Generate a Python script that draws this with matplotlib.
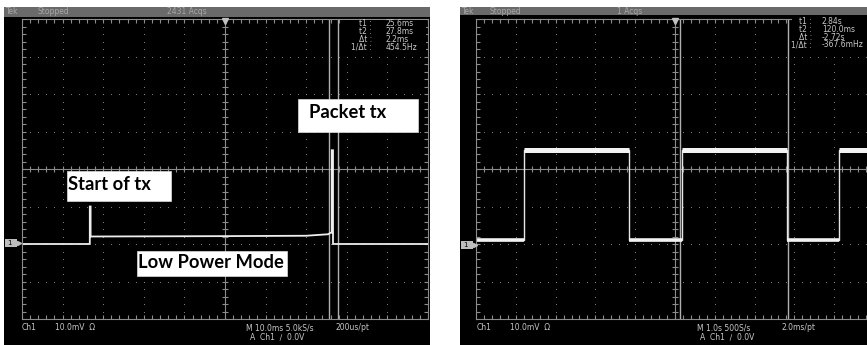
import numpy as np
import matplotlib
matplotlib.use("Agg")
import matplotlib.pyplot as plt
from matplotlib.patches import Rectangle
from matplotlib.collections import LineCollection

W, H = 867, 345

# ---------------- data ----------------
# left capture: time in ms, level in mV above channel ground
left_t = [-50, -33.3, -33.3, -33.1, -33.1, 0.0, 20.0, 25.4, 26.0, 26.3, 26.3, 26.6, 26.6, 50]
left_v = [0.0, 0.0, 10.0, 10.0, 2.0, 2.1, 2.2, 2.6, 3.0, 3.0, 25.0, 25.0, 0.0, 0.0]
left_cursors = [25.6, 27.8]
left_readout_lbl = ["t1 :", "t2 :", "\u0394t :", "1/\u0394t :"]
left_readout_val = ["25.6ms", "27.8ms", "2.2ms", "454.5Hz"]

# right capture: time in s, level in mV above channel ground
right_t = [-5.0, -3.80, -3.80, -1.16, -1.16, 0.17, 0.17, 2.81, 2.81, 4.12, 4.12, 5.5]
right_v = [1.0, 1.0, 25.0, 25.0, 1.0, 1.0, 25.0, 25.0, 1.0, 1.0, 25.0, 25.0]
right_cursors = [0.12, 2.84]
right_readout_lbl = ["t1 :", "t2 :", "\u0394t :", "1/\u0394t :"]
right_readout_val = ["2.84s", "120.0ms", "-2.72s", "-367.6mHz"]

GRID = "#8c8c8c"
TXT = "#c8c8c8"

fig = plt.figure(figsize=(W / 100, H / 100), dpi=100)
fig.patch.set_facecolor("white")

bg = fig.add_axes([0, 0, 1, 1])
bg.set_xlim(0, W); bg.set_ylim(H, 0); bg.axis("off")
# panels
bg.add_patch(Rectangle((4, 7), 426, H - 7, color="black", lw=0))
bg.add_patch(Rectangle((4, 7), 426, 10, color="#6a6a6a", lw=0))
bg.add_patch(Rectangle((460, 7), W - 460, H - 7, color="black", lw=0))
bg.add_patch(Rectangle((460, 7), W - 460, 8, color="#6a6a6a", lw=0))


def make_ax(x0, y0, wpx, hpx, xlim):
    ax = fig.add_axes([x0 / W, 1 - (y0 + hpx) / H, wpx / W, hpx / H])
    ax.set_facecolor("none")
    ax.set_xlim(*xlim)
    ax.set_ylim(-20, 60)
    ax.set_xticks([]); ax.set_yticks([])
    for s in ax.spines.values():
        s.set_color(GRID); s.set_linewidth(0.8)
    T = ax.transAxes
    # dotted grid
    us, vs = [], []
    for i in range(1, 10):
        for k in range(41):
            us.append(i / 10); vs.append(k / 40)
    for j in range(1, 8):
        for k in range(51):
            us.append(k / 50); vs.append(j / 8)
    ax.scatter(us, vs, s=0.6, c=GRID, transform=T, lw=0, clip_on=False)
    # centre lines
    ax.plot([0.5, 0.5], [0, 1], color=GRID, lw=0.8, transform=T)
    ax.plot([0, 1], [0.5, 0.5], color=GRID, lw=0.8, transform=T)
    segs = []
    tl_u, tl_v = 3 / wpx, 3 / hpx
    for k in range(51):
        u = k / 50
        segs.append([(u, 0.5 - tl_v), (u, 0.5 + tl_v)])
        segs.append([(u, 0), (u, 1.3 * tl_v)])
        segs.append([(u, 1), (u, 1 - 1.3 * tl_v)])
    for k in range(41):
        v = k / 40
        segs.append([(0.5 - tl_u, v), (0.5 + tl_u, v)])
        segs.append([(0, v), (1.3 * tl_u, v)])
        segs.append([(1, v), (1 - 1.3 * tl_u, v)])
    ax.add_collection(LineCollection(segs, colors=GRID, lw=0.8, transform=T))
    return ax


axL = make_ax(22, 19, 406, 300, (-50, 50))
axR = make_ax(476, 19, 398, 300, (-5, 5))

for c in left_cursors:
    axL.axvline(c, color="#b0b0b0", lw=1.0)
for c in right_cursors:
    axR.axvline(c, color="#b0b0b0", lw=1.0)

axL.plot(left_t, left_v, color="#eeeeee", lw=1.3, solid_joinstyle="miter")

# right trace: thin edges, thick noisy-looking flat levels
axR.plot(right_t, right_v, color="#e6e6e6", lw=1.0)
for i in range(len(right_t) - 1):
    if right_v[i] == right_v[i + 1]:
        lw = 3.6 if right_v[i] > 10 else 2.6
        axR.plot([right_t[i], right_t[i + 1]], [right_v[i], right_v[i + 1]],
                 color="#f2f2f2", lw=lw, solid_capstyle="butt")

# overlay for labels
ov = fig.add_axes([0, 0, 1, 1], facecolor="none")
ov.set_xlim(0, W); ov.set_ylim(H, 0); ov.axis("off")

fs = 5.5
# headers
for x, s in [(6, "Tek"), (37, "Stopped"), (167, "2431 Acqs"),
             (462, "Tek"), (490, "Stopped"), (617, "1 Acqs")]:
    ov.text(x, 12, s, color="#a8a8a8", fontsize=fs, va="center", ha="left")

# trigger markers
for xc in (225, 675):
    ov.plot([xc], [20.5], marker="v", color="#c0c0c0", ms=4, lw=0)

# readouts
ov.add_patch(Rectangle((342, 19.5), 84, 33, color="black", lw=0))
ov.add_patch(Rectangle((792, 16), 75, 34, color="black", lw=0))
for i in range(4):
    y = 24 + i * 7.8
    ov.text(372, y, left_readout_lbl[i], color=TXT, fontsize=fs, ha="right", va="center")
    ov.text(386, y, left_readout_val[i], color=TXT, fontsize=fs, ha="left", va="center")
    y2 = 22 + i * 7.5
    ov.text(812, y2, right_readout_lbl[i], color=TXT, fontsize=fs, ha="right", va="center")
    ov.text(822, y2, right_readout_val[i], color=TXT, fontsize=fs, ha="left", va="center")

# channel ground markers
for x0, y0 in [(5, 243), (461, 245)]:
    ov.add_patch(Rectangle((x0, y0 - 4), 12, 8, color="#bdbdbd", lw=0))
    ov.text(x0 + 4, y0, "1", color="black", fontsize=5, ha="center", va="center")
    ov.plot([x0 + 14], [y0], marker=">", color="#bdbdbd", ms=3, lw=0)

# bottom readouts
for x, y, s in [(22, 328, "Ch1"), (55, 328, "10.0mV  \u03a9"),
                (246, 328, "M 10.0ms 5.0kS/s"), (335, 328, "200us/pt"),
                (250, 337, "A  Ch1  \u2215  0.0V"),
                (477, 328, "Ch1"), (510, 328, "10.0mV  \u03a9"),
                (697, 328, "M 1.0s 500S/s"), (782, 328, "2.0ms/pt"),
                (700, 337, "A  Ch1  \u2215  0.0V")]:
    ov.text(x, y, s, color=TXT, fontsize=fs, ha="left", va="center")

# annotation boxes
for (x0, y0, x1, y1), tx, ty, s in [((298, 99, 418, 132), 309, 113, "Packet tx"),
                                     ((67, 171, 171, 201), 68, 184, "Start of tx"),
                                     ((137, 251, 287, 276), 138, 262, "Low Power Mode")]:
    ov.add_patch(Rectangle((x0, y0), x1 - x0, y1 - y0, facecolor="white",
                           edgecolor="#dddddd", lw=0.5))
    ov.text(tx, ty, s, color="black", fontsize=13.2, fontweight="bold",
            family="Lato", ha="left", va="center")

fig.savefig("out.png", dpi=100, facecolor="white")
